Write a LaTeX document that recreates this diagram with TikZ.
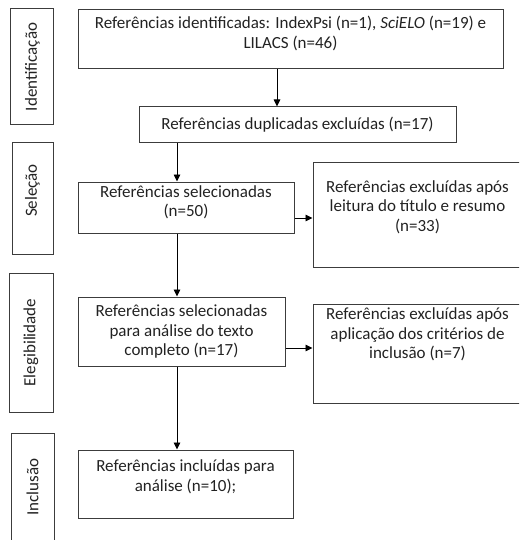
\documentclass[tikz,border=0pt]{standalone}
\usepackage{fontspec}
\setmainfont{Carlito}
\usetikzlibrary{arrows.meta}
\definecolor{boxgray}{HTML}{3C3C3C}
\definecolor{textgray}{HTML}{222222}
\tikzset{
	refbox/.style={draw=boxgray, line width=1pt, inner sep=0pt},
	reftext/.style={align=center, text=textgray, font=\fontsize{17}{19.5}\selectfont, inner sep=0pt},
	stagetext/.style={rotate=90, text=textgray, font=\fontsize{17}{19.5}\selectfont, inner sep=0pt},
	flow/.style={-{Triangle[length=7pt,width=6.5pt]}, line width=0.9pt, black},
}
\begin{document}
\begin{tikzpicture}[x=1pt, y=-1pt]
	\useasboundingbox (0,0) rectangle (519,540);
	\clip (0,0) rectangle (519,540);
	% stages
	\node[refbox, minimum width=43pt, minimum height=116pt] (ident) at (31.5,67) {};
	\node[refbox, minimum width=41pt, minimum height=111pt] (sele) at (32.5,198.5) {};
	\node[refbox, minimum width=44pt, minimum height=139pt] (eleg) at (31,342.5) {};
	\node[refbox, minimum width=43pt, minimum height=108pt] (inclu) at (32.5,487) {};
	\node[stagetext] (ident text) at ([xshift=1pt]ident.center) {Identificação};
	\node[stagetext] (sele text) at ([yshift=8pt]sele.center) {Seleção};
	\node[stagetext] (eleg text) at (eleg.center) {Elegibilidade};
	\node[stagetext] (inclu text) at (inclu.center) {Inclusão};
	% boxes
	\node[refbox, minimum width=425pt, minimum height=59pt] (ident box) at (290.5,39.5) {};
	\node[refbox, minimum width=317pt, minimum height=36pt] (dup box) at (297.5,125) {};
	\node[refbox, minimum width=216pt, minimum height=51pt] (sel box) at (186,207.5) {};
	\node[refbox, minimum width=209pt, minimum height=104pt] (exc1 box) at (417.5,215) {};
	\node[refbox, minimum width=207pt, minimum height=69pt] (sel2 box) at (181.5,331.5) {};
	\node[refbox, minimum width=209pt, minimum height=99pt] (exc2 box) at (417.5,353.5) {};
	\node[refbox, minimum width=215pt, minimum height=68pt] (incl box) at (185.5,484) {};
	% texts
	\node[reftext] (ident box text) at ([yshift=6pt]ident box.center) {Referências identificadas: IndexPsi (n=1), \textit{SciELO} (n=19) e\\LILACS (n=46)};
	\node[reftext] (dup text) at (dup box.center) {Referências duplicadas excluídas (n=17)};
	\node[reftext] (sel text) at ([yshift=5pt]sel box.center) {Referências selecionadas\\(n=50)};
	\node[reftext] (exc1 text) at ([yshift=8pt]exc1 box.center) {Referências excluídas após\\leitura do título e resumo\\(n=33)};
	\node[reftext] (sel2 text) at (sel2 box.center) {Referências selecionadas\\para análise do texto\\completo (n=17)};
	\node[reftext] (exc2 text) at ([yshift=19pt]exc2 box.center) {Referências excluídas após\\aplicação dos critérios de\\inclusão (n=7)};
	\node[reftext] (incl text) at ([yshift=7pt]incl box.center) {Referências incluídas para\\análise (n=10);};
	% connectors
	\coordinate (col a) at (277,0);
	\coordinate (col b) at (177,0);
	\coordinate (row a) at (0,218);
	\coordinate (row b) at (0,348);
	\draw[flow] (ident box.south -| col a) -- (dup box.north -| col a);
	\draw[flow] (dup box.south -| col b) -- (sel box.north -| col b);
	\draw[flow] (sel box.south -| col b) -- (sel2 box.north -| col b);
	\draw[flow] (sel2 box.south -| col b) -- (incl box.north -| col b);
	\draw[flow] (sel box.east |- row a) -- (exc1 box.west |- row a);
	\draw[flow] (sel2 box.east |- row b) -- (exc2 box.west |- row b);
\end{tikzpicture}
\end{document}
